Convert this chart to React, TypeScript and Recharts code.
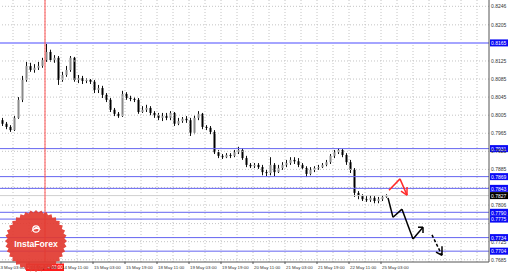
import React from 'react';
import { ComposedChart, Bar, XAxis, YAxis, ReferenceLine } from 'recharts';

// H1 candles (index = bar slot)
const opens = [
  0.7994, 0.7986, 0.7979, 0.7972, 0.7999, 0.8039, 0.8083, 0.8114, 0.8105, 0.8110,
  0.8114, 0.8127, 0.8145, 0.8127, 0.8132, 0.8083, 0.8094, 0.8105, 0.8132, 0.8083,
  0.8087, 0.8081, 0.8083, 0.8079, 0.8061, 0.8065, 0.8050, 0.8039, 0.8017, 0.8008,
  0.8003, 0.8052, 0.8043, 0.8041, 0.8039, 0.8012, 0.8017, 0.8021, 0.8010, 0.8005,
  0.7999, 0.8003, 0.7999, 0.8010, 0.7986, 0.7992, 0.7997, 0.7994, 0.7966, 0.7999,
  0.8008, 0.7979, 0.7977, 0.7968, 0.7923, 0.7915, 0.7912, 0.7917, 0.7915, 0.7923,
  0.7928, 0.7910, 0.7895, 0.7892, 0.7895, 0.7890, 0.7879, 0.7877, 0.7895, 0.7879,
  0.7888, 0.7895, 0.7899, 0.7906, 0.7903, 0.7895, 0.7888, 0.7875, 0.7884, 0.7888,
  0.7890, 0.7895, 0.7901, 0.7915, 0.7923, 0.7928, 0.7917, 0.7901, 0.7884, 0.7833,
  0.7826, 0.7819, 0.7817, 0.7822, 0.7815, 0.7819, 0.7824,
];
const highs = [
  0.7999, 0.7990, 0.7983, 0.8003, 0.8045, 0.8092, 0.8123, 0.8121, 0.8118, 0.8123,
  0.8132, 0.8165, 0.8150, 0.8138, 0.8136, 0.8101, 0.8114, 0.8136, 0.8134, 0.8094,
  0.8092, 0.8087, 0.8085, 0.8083, 0.8072, 0.8070, 0.8054, 0.8043, 0.8021, 0.8012,
  0.8059, 0.8056, 0.8048, 0.8045, 0.8043, 0.8025, 0.8028, 0.8025, 0.8014, 0.8010,
  0.8010, 0.8010, 0.8014, 0.8012, 0.7999, 0.8001, 0.8003, 0.7999, 0.8005, 0.8014,
  0.8010, 0.7983, 0.7981, 0.7972, 0.7928, 0.7919, 0.7921, 0.7921, 0.7928, 0.7935,
  0.7932, 0.7915, 0.7899, 0.7899, 0.7899, 0.7895, 0.7884, 0.7912, 0.7899, 0.7895,
  0.7901, 0.7906, 0.7912, 0.7912, 0.7910, 0.7899, 0.7892, 0.7890, 0.7892, 0.7895,
  0.7899, 0.7906, 0.7919, 0.7928, 0.7932, 0.7930, 0.7921, 0.7906, 0.7888, 0.7837,
  0.7830, 0.7826, 0.7828, 0.7826, 0.7824, 0.7828, 0.7830,
];
const lows = [
  0.7981, 0.7974, 0.7968, 0.7970, 0.7997, 0.8034, 0.8079, 0.8101, 0.8099, 0.8105,
  0.8110, 0.8123, 0.8123, 0.8121, 0.8072, 0.8079, 0.8090, 0.8101, 0.8079, 0.8076,
  0.8074, 0.8076, 0.8074, 0.8054, 0.8054, 0.8043, 0.8034, 0.8012, 0.8003, 0.7999,
  0.8001, 0.8039, 0.8036, 0.8034, 0.8008, 0.8010, 0.8012, 0.8005, 0.7999, 0.7994,
  0.7992, 0.7994, 0.7994, 0.7981, 0.7983, 0.7988, 0.7988, 0.7959, 0.7963, 0.7994,
  0.7974, 0.7972, 0.7963, 0.7919, 0.7910, 0.7908, 0.7910, 0.7910, 0.7912, 0.7919,
  0.7906, 0.7890, 0.7888, 0.7888, 0.7886, 0.7872, 0.7870, 0.7872, 0.7870, 0.7877,
  0.7884, 0.7890, 0.7895, 0.7897, 0.7890, 0.7884, 0.7868, 0.7872, 0.7879, 0.7884,
  0.7888, 0.7892, 0.7897, 0.7910, 0.7919, 0.7912, 0.7895, 0.7877, 0.7824, 0.7819,
  0.7815, 0.7813, 0.7813, 0.7810, 0.7810, 0.7815, 0.7822,
];
const closes = [
  0.7986, 0.7979, 0.7972, 0.7999, 0.8039, 0.8083, 0.8114, 0.8105, 0.8110, 0.8114,
  0.8127, 0.8145, 0.8127, 0.8132, 0.8083, 0.8094, 0.8105, 0.8132, 0.8083, 0.8087,
  0.8081, 0.8083, 0.8079, 0.8061, 0.8065, 0.8050, 0.8039, 0.8017, 0.8008, 0.8003,
  0.8052, 0.8043, 0.8041, 0.8039, 0.8012, 0.8017, 0.8021, 0.8010, 0.8005, 0.7999,
  0.8003, 0.7999, 0.8010, 0.7986, 0.7992, 0.7997, 0.7994, 0.7966, 0.7999, 0.8008,
  0.7979, 0.7977, 0.7968, 0.7923, 0.7915, 0.7912, 0.7917, 0.7915, 0.7923, 0.7928,
  0.7910, 0.7895, 0.7892, 0.7895, 0.7890, 0.7879, 0.7877, 0.7895, 0.7879, 0.7888,
  0.7895, 0.7899, 0.7906, 0.7903, 0.7895, 0.7888, 0.7875, 0.7884, 0.7888, 0.7890,
  0.7895, 0.7901, 0.7915, 0.7923, 0.7928, 0.7917, 0.7901, 0.7884, 0.7833, 0.7826,
  0.7819, 0.7817, 0.7822, 0.7815, 0.7819, 0.7824, 0.7827,
];

const priceTicks = [0.8246, 0.8205, 0.8165, 0.8125, 0.8085, 0.8045, 0.8005, 0.7965, 0.7925, 0.7885, 0.7845, 0.7806, 0.7765, 0.7725, 0.7685];
const hiddenTicks = [0.8165, 0.7845, 0.7765];
const levels = [0.8165, 0.7931, 0.7869, 0.7843, 0.7790, 0.7775, 0.7734, 0.7704];
const lastPrice = 0.7827;

const timeTicks = [-1.25, 6.75, 14.75, 22.75, 30.75, 38.75, 46.75, 54.75, 62.75, 70.75, 78.75, 86.75, 94.75];
const timeLabels = ['13 May 03:00', '13 May 19:00', '14 May 11:00', '15 May 03:00', '15 May 19:00', '18 May 11:00', '19 May 03:00', '19 May 19:00', '20 May 11:00', '21 May 03:00', '21 May 19:00', '22 May 11:00', '25 May 03:00'];
const crossTime = 10.75;
const crossLabel = '2016.05.14 03:00';

// forecast arrows drawn on the chart (bar slot, price)
const redPath = [{ x: 96.75, y: 0.7839 }, { x: 99.5, y: 0.7864 }, { x: 101.25, y: 0.7828 }];
const redHead = [{ x: 99.75, y: 0.7837 }, { x: 101.25, y: 0.7828 }, { x: 101.25, y: 0.7846 }];
const blackPath = [{ x: 96.5, y: 0.7822 }, { x: 97.75, y: 0.7779 }, { x: 100, y: 0.7797 }, { x: 102.75, y: 0.7731 }, { x: 105.25, y: 0.7757 }];
const blackHead = [{ x: 104, y: 0.7757 }, { x: 105.25, y: 0.7757 }, { x: 105.25, y: 0.7744 }];
const dashPath = [{ x: 107.5, y: 0.7740 }, { x: 110, y: 0.7695 }];
const dashHead = [{ x: 108.5, y: 0.7702 }, { x: 110, y: 0.7695 }, { x: 110, y: 0.7715 }];

const data = opens.map((o, i) => ({ i, open: o, high: highs[i], low: lows[i], close: closes[i] }));

const gridTimes: number[] = [];
for (let t = 2.75; t < 121; t += 4) gridTimes.push(t);

const FONT = 'Liberation Sans, Arial, sans-serif';
const LEVEL_BLUE = '#6464f0';

const Candle = (props: any) => {
  const { x, y, width, height, payload } = props;
  const top = Math.min(y, y + height);
  const h = Math.abs(height);
  const range = payload.high - payload.low || 1;
  const pos = (v: number) => top + ((payload.high - v) / range) * h;
  const cx = Math.round(x + width / 2) + 0.5;
  const o = pos(payload.open);
  const c = pos(payload.close);
  const bull = payload.close >= payload.open;
  return (
    <g>
      <line x1={cx} x2={cx} y1={top} y2={top + h} stroke="#111" strokeWidth={1} />
      <rect x={cx - 1} y={Math.min(o, c)} width={2} height={Math.max(1, Math.abs(o - c))} fill={bull ? '#8a8a8a' : '#000'} />
    </g>
  );
};

const TimeTick = (props: any) => {
  const { x, y, index } = props;
  return (
    <text x={x + 1} y={y + 1} fontSize={4.4} fontFamily={FONT} fill="#333" dominantBaseline="central">
      {timeLabels[index]}
    </text>
  );
};

const PriceTick = (props: any) => {
  const { x, y, payload } = props;
  if (hiddenTicks.includes(payload.value)) return null;
  return (
    <text x={x} y={y} fontSize={5} fontFamily={FONT} fill="#333" dominantBaseline="central">
      {payload.value.toFixed(4)}
    </text>
  );
};

const boxLabel = (text: string, bg: string) => (props: any) => {
  const vb = props.viewBox || {};
  const right = vb.x + vb.width;
  return (
    <g>
      <rect x={right + 1} y={vb.y - 3.5} width={18} height={7} fill={bg} />
      <text x={right + 2} y={vb.y + 0.3} fontSize={5} fontFamily={FONT} fill="#fff" dominantBaseline="central">
        {text}
      </text>
    </g>
  );
};

const crossBox = (props: any) => {
  const vb = props.viewBox || {};
  const bottom = vb.y + vb.height;
  return (
    <g>
      <rect x={vb.x - 19} y={bottom + 1.5} width={38} height={7.5} fill="#ff1a1a" />
      <text x={vb.x} y={bottom + 5.5} fontSize={4.6} fontFamily={FONT} fill="#fff" textAnchor="middle" dominantBaseline="central">
        {crossLabel}
      </text>
    </g>
  );
};

const segs = (pts: { x: number; y: number }[]) => pts.slice(1).map((p, k) => [pts[k], p]);

const Watermark = () => {
  const pts: string[] = [];
  const cx = 36, cy = 241;
  for (let k = 0; k < 72; k++) {
    const a = (k / 72) * Math.PI * 2;
    const r = k % 2 === 0 ? 31 : 28.5;
    pts.push(`${(cx + r * Math.cos(a)).toFixed(1)},${(cy + r * Math.sin(a)).toFixed(1)}`);
  }
  return (
    <svg width={510} height={273} style={{ position: 'absolute', left: 0, top: 0, pointerEvents: 'none' }}>
      <polygon points={pts.join(' ')} fill="#e23a30" opacity={0.92} />
      <path d="M31 232 q5 -9 10 -2 q-6 -3 -10 2 z" fill="#fff" />
      <circle cx={36} cy={229} r={3.2} fill="none" stroke="#fff" strokeWidth={1.2} />
      <text x={cx} y={247} fontSize={8.6} fontWeight="bold" fontFamily={FONT} fill="#fff" textAnchor="middle">
        InstaForex
      </text>
    </svg>
  );
};

export default function App() {
  return (
    <div style={{ position: 'absolute', left: 0, top: 0, width: 510, height: 273, background: '#fff' }}>
      <ComposedChart width={510} height={273} data={data} margin={{ top: 0, right: 0, bottom: 0, left: 0 }}>
        <XAxis
          type="number"
          dataKey="i"
          domain={[-0.5, 121.75]}
          allowDataOverflow
          ticks={timeTicks}
          interval={0}
          tick={<TimeTick />}
          tickSize={2}
          tickMargin={2}
          height={11}
          stroke="#555"
        />
        <YAxis
          orientation="right"
          type="number"
          domain={[0.768, 0.826]}
          allowDataOverflow
          ticks={priceTicks}
          interval={0}
          tick={<PriceTick />}
          tickLine={false}
          tickSize={0}
          tickMargin={2}
          width={21}
          stroke="#555"
        />
        {gridTimes.map((t) => (
          <ReferenceLine key={`gx${t}`} x={t} stroke="#c4c4c4" strokeDasharray="1 2" />
        ))}
        {priceTicks.map((v) => (
          <ReferenceLine key={`gy${v}`} y={v} stroke="#c4c4c4" strokeDasharray="1 2" />
        ))}
        <ReferenceLine y={lastPrice} stroke="#cfcfcf" label={boxLabel(lastPrice.toFixed(4), '#000')} />
        {levels.map((v, k) => (
          <ReferenceLine
            key={`lv${v}`}
            y={v}
            stroke={k === 0 ? '#a4a4ff' : LEVEL_BLUE}
            strokeWidth={k === 0 ? 2 : 1}
            label={boxLabel(v.toFixed(4), '#0a0af5')}
          />
        ))}
        <ReferenceLine x={crossTime} stroke="#ff5050" label={crossBox} />
        <Bar dataKey={(d: any) => [d.low, d.high]} barSize={3} shape={<Candle />} isAnimationActive={false} />
        {segs(redPath).concat(segs(redHead)).map((s, k) => (
          <ReferenceLine key={`r${k}`} segment={s} stroke="#ff2a2a" strokeWidth={1.5} ifOverflow="visible" />
        ))}
        {segs(blackPath).concat(segs(blackHead)).map((s, k) => (
          <ReferenceLine key={`b${k}`} segment={s} stroke="#000" strokeWidth={1.5} ifOverflow="visible" />
        ))}
        {segs(dashPath).map((s, k) => (
          <ReferenceLine key={`d${k}`} segment={s} stroke="#000" strokeWidth={1.5} strokeDasharray="3 2" ifOverflow="visible" />
        ))}
        {segs(dashHead).map((s, k) => (
          <ReferenceLine key={`dh${k}`} segment={s} stroke="#000" strokeWidth={1.5} ifOverflow="visible" />
        ))}
      </ComposedChart>
      <Watermark />
    </div>
  );
}
